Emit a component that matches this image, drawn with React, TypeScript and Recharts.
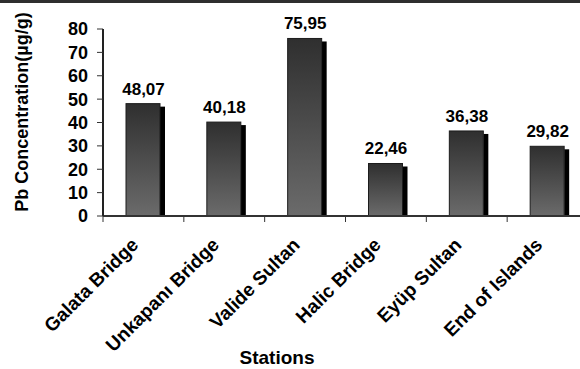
import React from "react";
import { BarChart, Bar, XAxis, YAxis, LabelList } from "recharts";

// Pb concentrations per sampling station (µg/g)
const stations = [
  "Galata Bridge",
  "Unkapanı Bridge",
  "Valide Sultan",
  "Halic Bridge",
  "Eyüp Sultan",
  "End of Islands",
];
const pbValues = [48.07, 40.18, 75.95, 22.46, 36.38, 29.82];
const yTicks = [0, 10, 20, 30, 40, 50, 60, 70, 80];

const chartData = stations.map((station, i) => ({ station, pb: pbValues[i] }));

const FONT = "'Liberation Sans', Arial, Helvetica, sans-serif";
const CHART_W = 600;
const CHART_H = 369;
const Y_AXIS_W = 103;
const MARGIN = { top: 29, right: 12, left: 0, bottom: 3 };
const BAND = (CHART_W - MARGIN.left - MARGIN.right - Y_AXIS_W) / stations.length;

function formatValue(v: number): string {
  return v.toFixed(2).replace(".", ",");
}

// front face with gradient + black offset shadow on the right
function ShadowBar(props: any) {
  const { x, y, width, height } = props;
  const front = width - 5;
  return (
    <g>
      <rect x={x + 2 + front} y={y + 3} width={5} height={Math.max(height - 3, 0)} fill="#000" />
      <rect
        x={x + 2}
        y={y}
        width={front}
        height={height}
        fill="url(#pbBarGrad)"
        stroke="#1c1c1c"
        strokeWidth={1}
      />
    </g>
  );
}

function StationTick(props: any) {
  const { x, y, payload } = props;
  const edge = x - BAND / 2;
  return (
    <g>
      <line x1={edge} x2={edge} y1={y} y2={y + 6} stroke="#333" strokeWidth={1} />
      <text
        transform={`translate(${x - 4},${y + 30}) rotate(-45)`}
        textAnchor="end"
        fontFamily={FONT}
        fontWeight="bold"
        fontSize={19}
        fill="#000"
      >
        {payload.value}
      </text>
    </g>
  );
}

function YTitle() {
  return (
    <text
      transform="translate(28,112) rotate(-90)"
      textAnchor="middle"
      fontFamily={FONT}
      fontWeight="bold"
      fontSize={18}
      fill="#000"
    >
      Pb Concentration(µg/g)
    </text>
  );
}

function XTitle() {
  return (
    <text x={277} y={364} textAnchor="middle" fontFamily={FONT} fontWeight="bold" fontSize={19} fill="#000">
      Stations
    </text>
  );
}

export default function App() {
  return (
    <div
      style={{
        position: "absolute",
        left: 0,
        top: 0,
        width: 580,
        height: 369,
        overflow: "hidden",
        background: "#fff",
      }}
    >
      <div style={{ position: "absolute", left: 0, top: 0, width: 580, height: 3, background: "#2e2e2e" }} />
      <BarChart width={CHART_W} height={CHART_H} data={chartData} margin={MARGIN}>
        <defs>
          <linearGradient id="pbBarGrad" x1="0" y1="0" x2="0" y2="1">
            <stop offset="0%" stopColor="#2f2f2f" />
            <stop offset="100%" stopColor="#6b6b6b" />
          </linearGradient>
        </defs>
        <XAxis
          dataKey="station"
          height={150}
          interval={0}
          tickLine={false}
          tickSize={0}
          tickMargin={0}
          tick={<StationTick />}
          axisLine={{ stroke: "#333", strokeWidth: 2 }}
          label={<XTitle />}
        />
        <YAxis
          width={Y_AXIS_W}
          domain={[0, 80]}
          ticks={yTicks}
          interval={0}
          tickSize={6}
          tickMargin={9}
          tickLine={{ stroke: "#333" }}
          axisLine={{ stroke: "#222", strokeWidth: 2 }}
          tick={{ fontFamily: FONT, fontWeight: "bold", fontSize: 18, fill: "#000" }}
          label={<YTitle />}
        />
        <Bar dataKey="pb" barSize={39} shape={<ShadowBar />} isAnimationActive={false}>
          <LabelList
            dataKey="pb"
            position="top"
            offset={9}
            formatter={(v: any) => formatValue(Number(v))}
            style={{ fontFamily: FONT, fontWeight: "bold", fontSize: 17, fill: "#000" }}
          />
        </Bar>
      </BarChart>
    </div>
  );
}
